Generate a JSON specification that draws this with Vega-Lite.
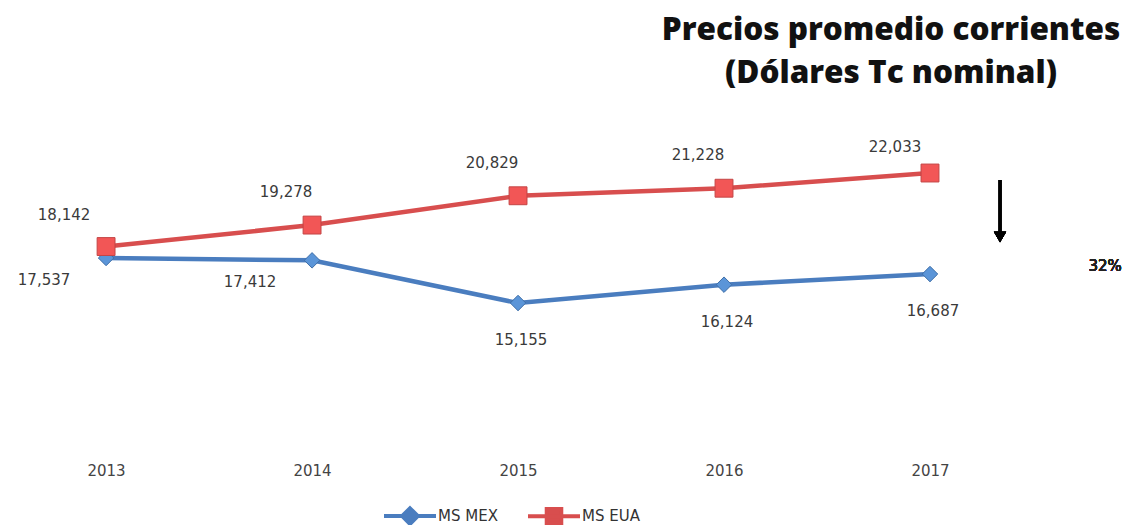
{
  "$schema": "https://vega.github.io/schema/vega-lite/v6.json",
  "width": 1130,
  "height": 525,
  "autosize": "none",
  "padding": 0,
  "background": "white",
  "config": {"view": {"stroke": null}, "font": "DejaVu Sans"},
  "title": {
    "text": ["Precios promedio corrientes", "(Dólares Tc nominal)"],
    "anchor": "middle",
    "frame": "group",
    "dx": 326,
    "offset": -89,
    "baseline": "top",
    "fontSize": 31.5,
    "font": "Open Sans",
    "fontWeight": 800,
    "color": "#111111",
    "lineHeight": 43
  },
  "data": {
    "values": [
      {"year": 2013, "series": "MS MEX", "value": 17537},
      {"year": 2014, "series": "MS MEX", "value": 17412},
      {"year": 2015, "series": "MS MEX", "value": 15155},
      {"year": 2016, "series": "MS MEX", "value": 16124},
      {"year": 2017, "series": "MS MEX", "value": 16687},
      {"year": 2013, "series": "MS EUA", "value": 18142},
      {"year": 2014, "series": "MS EUA", "value": 19278},
      {"year": 2015, "series": "MS EUA", "value": 20829},
      {"year": 2016, "series": "MS EUA", "value": 21228},
      {"year": 2017, "series": "MS EUA", "value": 22033}
    ]
  },
  "encoding": {
    "x": {
      "field": "year",
      "type": "quantitative",
      "scale": {"domain": [2012.485, 2017.971], "nice": false, "zero": false},
      "axis": {
        "title": null,
        "values": [2013, 2014, 2015, 2016, 2017],
        "format": "d",
        "domain": false,
        "ticks": false,
        "grid": false,
        "labelFlush": false,
        "labelFont": "DejaVu Sans",
        "labelFontSize": 15,
        "labelColor": "#444444",
        "labelBaseline": "middle",
        "offset": -63,
        "labelPadding": 8
      }
    },
    "y": {
      "field": "value",
      "type": "quantitative",
      "scale": {"domain": [3409, 31187], "nice": false, "zero": false},
      "axis": null
    }
  },
  "layer": [
    {
      "mark": {"type": "line", "strokeWidth": 4.5},
      "encoding": {
        "color": {
          "field": "series",
          "type": "nominal",
          "scale": {"domain": ["MS MEX", "MS EUA"], "range": ["#4a7dbf", "#d84e4e"]},
          "legend": {
            "orient": "none",
            "legendX": 382,
            "legendY": 488,
            "direction": "horizontal",
            "title": null,
            "labelFont": "DejaVu Sans",
            "labelFontSize": 15,
            "labelColor": "#333333",
            "symbolSize": 2704,
            "symbolStrokeWidth": 4,
            "labelOffset": 0,
            "columnPadding": 22,
            "encode": {
              "symbols": {
                "update": {
                  "shape": {"signal": "datum.value === 'MS MEX' ? 'M-1,0L1,0M0,-0.3L0.3,0L0,0.3L-0.3,0Z' : 'M-1,0L1,0M-0.28,-0.28L0.28,-0.28L0.28,0.28L-0.28,0.28Z'"},
                  "fill": {"scale": "color", "field": "value"},
                  "fillOpacity": {"value": 1},
                  "strokeWidth": {"value": 4}
                }
              }
            }
          }
        }
      }
    },
    {
      "transform": [{"filter": "datum.series === 'MS MEX'"}],
      "mark": {"type": "point", "shape": "diamond", "size": 240, "filled": true, "opacity": 1, "fill": "#5b95d8", "stroke": "#3f6fa8", "strokeWidth": 1}
    },
    {
      "transform": [{"filter": "datum.series === 'MS EUA'"}],
      "mark": {"type": "point", "shape": "square", "size": 320, "filled": true, "opacity": 1, "fill": "#f25656", "stroke": "#c44545", "strokeWidth": 1}
    },
    {
      "transform": [{"filter": "datum.series === 'MS EUA' && datum.year === 2013"}],
      "mark": {"type": "text", "dx": -42, "dy": -32, "fontSize": 15, "color": "#3a3a3a", "font": "DejaVu Sans"},
      "encoding": {"text": {"field": "value", "type": "quantitative", "format": ","}}
    },
    {
      "transform": [{"filter": "datum.series === 'MS EUA' && datum.year >= 2014 && datum.year <= 2016"}],
      "mark": {"type": "text", "dx": -26, "dy": -33, "fontSize": 15, "color": "#3a3a3a", "font": "DejaVu Sans"},
      "encoding": {"text": {"field": "value", "type": "quantitative", "format": ","}}
    },
    {
      "transform": [{"filter": "datum.series === 'MS EUA' && datum.year === 2017"}],
      "mark": {"type": "text", "dx": -35, "dy": -26, "fontSize": 15, "color": "#3a3a3a", "font": "DejaVu Sans"},
      "encoding": {"text": {"field": "value", "type": "quantitative", "format": ","}}
    },
    {
      "transform": [{"filter": "datum.series === 'MS MEX' && datum.year <= 2014"}],
      "mark": {"type": "text", "dx": -62, "dy": 22, "fontSize": 15, "color": "#3a3a3a", "font": "DejaVu Sans"},
      "encoding": {"text": {"field": "value", "type": "quantitative", "format": ","}}
    },
    {
      "transform": [{"filter": "datum.series === 'MS MEX' && datum.year >= 2015"}],
      "mark": {"type": "text", "dx": 3, "dy": 37, "fontSize": 15, "color": "#3a3a3a", "font": "DejaVu Sans"},
      "encoding": {"text": {"field": "value", "type": "quantitative", "format": ","}}
    },
    {
      "mark": {"type": "rule", "strokeWidth": 2.5, "color": "#000000"},
      "encoding": {
        "x": {"datum": 2017.34, "type": "quantitative"},
        "y": {"datum": 21663, "type": "quantitative"},
        "y2": {"datum": 18700}
      }
    },
    {
      "mark": {"type": "point", "shape": "triangle-down", "filled": true, "size": 150, "color": "#000000", "opacity": 1},
      "encoding": {
        "x": {"datum": 2017.34, "type": "quantitative"},
        "y": {"datum": 18647, "type": "quantitative"}
      }
    },
    {
      "mark": {"type": "text", "fontSize": 15, "color": "#222222", "font": "DejaVu Sans"},
      "encoding": {
        "x": {"datum": 2017.85, "type": "quantitative"},
        "y": {"datum": 17100, "type": "quantitative"},
        "text": {"value": "32%"}
      }
    }
  ]
}
